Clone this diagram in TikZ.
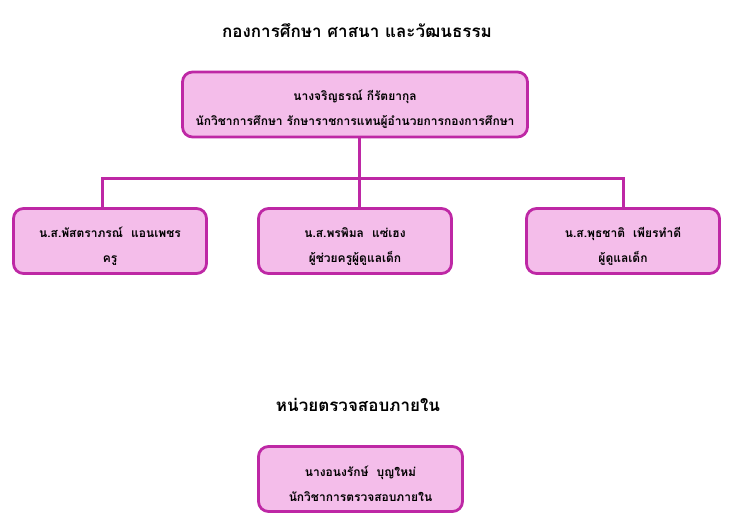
\documentclass[tikz,border=0pt]{standalone}
\usepackage{fontspec}
\newfontfamily\thaifont[Script=Thai]{Loma}
\definecolor{orgline}{RGB}{190,40,165}
\definecolor{orgfill}{RGB}{244,189,234}
\newcommand{\orgtext}[2]{\rule{0pt}{20pt}#1\\#2}

\begin{document}
\begin{tikzpicture}[x=1pt, y=-1pt,
	every node/.style={font=\thaifont\bfseries},
	orgbox/.style={shape=rectangle, rounded corners=10pt, draw=orgline, fill=orgfill, line width=2.8pt, align=center, minimum height=65pt, inner sep=0pt, font=\thaifont\bfseries\fontsize{12}{25}\selectfont},
	orgtitle/.style={font=\thaifont\bfseries\fontsize{17}{20}\selectfont}]
	\useasboundingbox (0,0) rectangle (734,527);
	\node [orgtitle] (t1) at (357, 31) {กองการศึกษา ศาสนา และวัฒนธรรม};
	\node [orgbox, minimum width=345pt] (top) at (355, 104.5) {\orgtext{นางจริญธรณ์ กีรัตยากุล}{นักวิชาการศึกษา รักษาราชการแทนผู้อำนวยการกองการศึกษา}};
	\node [orgbox, minimum width=193pt] (s1) at (110, 241) {\orgtext{น.ส.พัสตราภรณ์~~แอนเพชร}{ครู}};
	\node [orgbox, minimum width=193pt] (s2) at (355, 241) {\orgtext{น.ส.พรพิมล~~แซ่เฮง}{ผู้ช่วยครูผู้ดูแลเด็ก}};
	\node [orgbox, minimum width=193pt] (s3) at (623, 241) {\orgtext{น.ส.พุธชาติ~~เพียรทำดี}{ผู้ดูแลเด็ก}};
	\node [orgtitle] (t2) at (358, 405) {หน่วยตรวจสอบภายใน};
	\node [orgbox, minimum width=204pt] (audit) at (360.5, 479) {\orgtext{นางอนงรักษ์~~บุญใหม่}{นักวิชาการตรวจสอบภายใน}};
	\coordinate (bar) at (359, 178);
	\draw [orgline, line width=3pt] ([xshift=4pt]top.south) -- ([xshift=4pt]s2.north);
	\draw [orgline, line width=3pt] ([xshift=-8pt]s1.north) |- (bar) -| (s3.north);
\end{tikzpicture}
\end{document}
